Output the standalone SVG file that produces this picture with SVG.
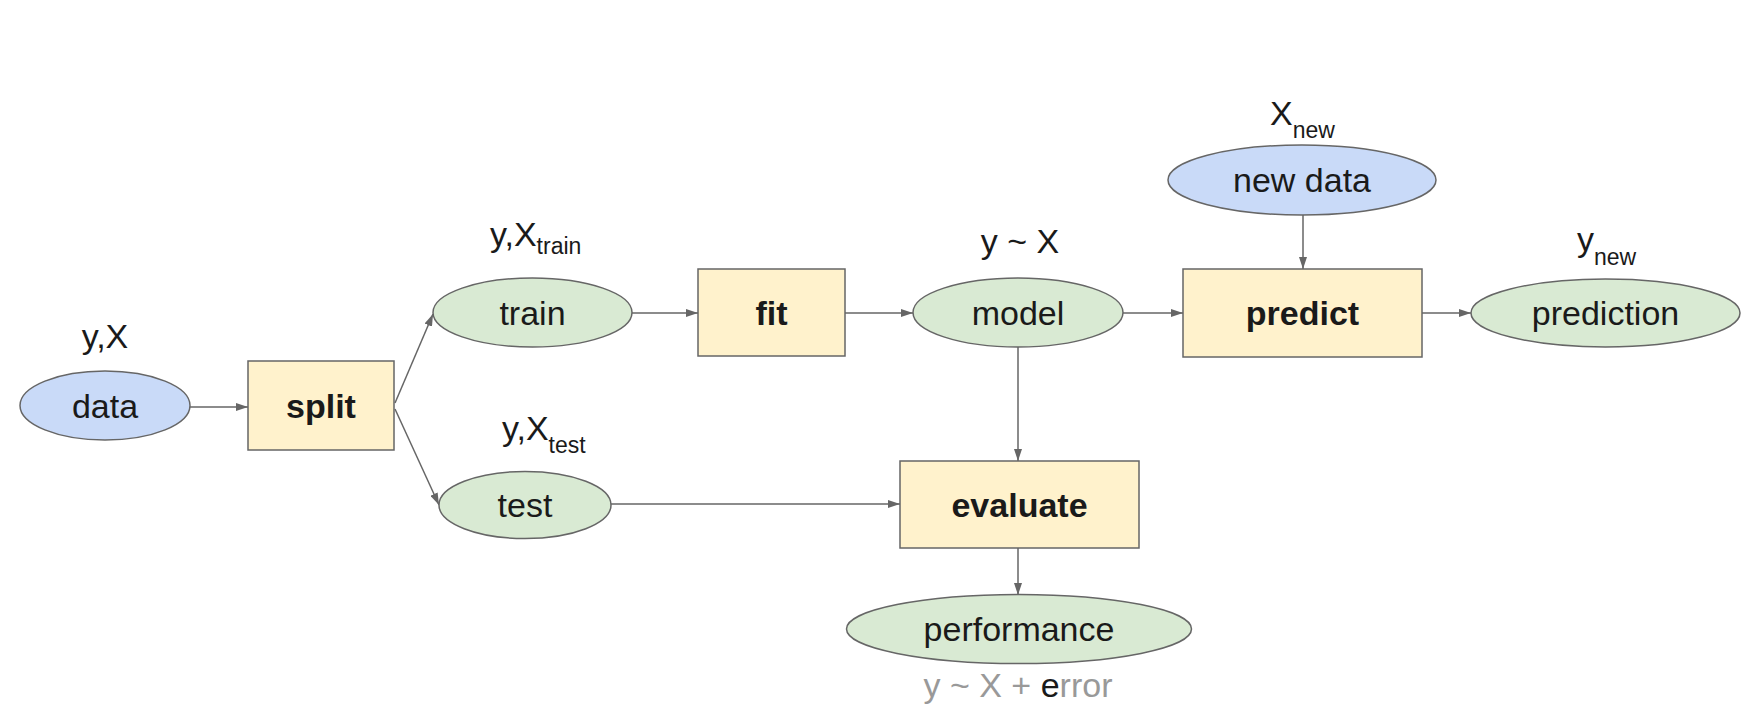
<svg xmlns="http://www.w3.org/2000/svg" width="1758" height="706" viewBox="0 0 1758 706">
<style>
.node { stroke: #666666; stroke-width: 1.5; }
.blue { fill: #c9daf8; }
.green { fill: #d9ead3; }
.yellow { fill: #fff2cc; }
.lbl { font-family: "Liberation Sans", Arial, sans-serif; font-size: 34px; fill: #1a1a1a; text-anchor: middle; }
.bold { font-weight: bold; }
.ann { font-family: "Liberation Sans", Arial, sans-serif; font-size: 34px; fill: #1a1a1a; }
.sub { font-size: 23px; }
.grey { fill: #999999; }
.conn { stroke: #666666; stroke-width: 1.5; fill: none; marker-end: url(#arr); }
</style>
<defs>
<marker id="arr" markerUnits="userSpaceOnUse" markerWidth="12" markerHeight="8" viewBox="0 0 12 8" refX="12" refY="4" orient="auto">
<path d="M0,0 L12,4 L0,8 Z" fill="#666666"/>
</marker>
</defs>
<rect width="1758" height="706" fill="#ffffff"/>
<g id="connectors">
<line class="conn" x1="190" y1="407" x2="248" y2="407"/>
<line class="conn" x1="395" y1="403" x2="433" y2="314"/>
<line class="conn" x1="395" y1="409" x2="439" y2="505"/>
<line class="conn" x1="632" y1="313" x2="698" y2="313"/>
<line class="conn" x1="845" y1="313" x2="913" y2="313"/>
<line class="conn" x1="1123" y1="313" x2="1183" y2="313"/>
<line class="conn" x1="1303" y1="215" x2="1303" y2="269"/>
<line class="conn" x1="1422" y1="313" x2="1471" y2="313"/>
<line class="conn" x1="1018" y1="347" x2="1018" y2="461"/>
<line class="conn" x1="611" y1="504" x2="900" y2="504"/>
<line class="conn" x1="1018" y1="548" x2="1018" y2="595"/>
</g>
<g id="data">
<ellipse class="node blue" cx="105" cy="405.5" rx="85" ry="34.5"/>
<text class="lbl" x="105" y="418">data</text>
<text class="ann" x="105" y="348" text-anchor="middle">y,X</text>
</g>
<g id="split">
<rect class="node yellow" x="248" y="361" width="146" height="89"/>
<text class="lbl bold" x="321" y="418">split</text>
</g>
<g id="train">
<ellipse class="node green" cx="532.5" cy="312.5" rx="99.5" ry="34.5"/>
<text class="lbl" x="532.5" y="325">train</text>
<text class="ann" x="490" y="246">y,X<tspan class="sub" dy="8">train</tspan></text>
</g>
<g id="test">
<ellipse class="node green" cx="525" cy="505" rx="86" ry="33.5"/>
<text class="lbl" x="525" y="517">test</text>
<text class="ann" x="502" y="440">y,X<tspan class="sub" dy="13">test</tspan></text>
</g>
<g id="fit">
<rect class="node yellow" x="698" y="269" width="147" height="87"/>
<text class="lbl bold" x="771.5" y="325">fit</text>
</g>
<g id="model">
<ellipse class="node green" cx="1018" cy="312.5" rx="105" ry="34.5"/>
<text class="lbl" x="1018" y="325">model</text>
<text class="ann" x="1020" y="253" text-anchor="middle">y ~ X</text>
</g>
<g id="new-data">
<ellipse class="node blue" cx="1302" cy="180" rx="134" ry="35"/>
<text class="lbl" x="1302" y="192">new data</text>
<text class="ann" x="1270" y="125">X<tspan class="sub" dy="13">new</tspan></text>
</g>
<g id="predict">
<rect class="node yellow" x="1183" y="269" width="239" height="88"/>
<text class="lbl bold" x="1302.5" y="325">predict</text>
</g>
<g id="prediction">
<ellipse class="node green" cx="1605.5" cy="313" rx="134.5" ry="34"/>
<text class="lbl" x="1605.5" y="325">prediction</text>
<text class="ann" x="1577" y="251">y<tspan class="sub" dy="14">new</tspan></text>
</g>
<g id="evaluate">
<rect class="node yellow" x="900" y="461" width="239" height="87"/>
<text class="lbl bold" x="1019.5" y="517">evaluate</text>
</g>
<g id="performance">
<ellipse class="node green" cx="1019" cy="629" rx="172.5" ry="34.5"/>
<text class="lbl" x="1019" y="641">performance</text>
<text class="ann grey" x="1018" y="697" text-anchor="middle">y ~ X + <tspan fill="#1a1a1a">e</tspan>rror</text>
</g>
</svg>
